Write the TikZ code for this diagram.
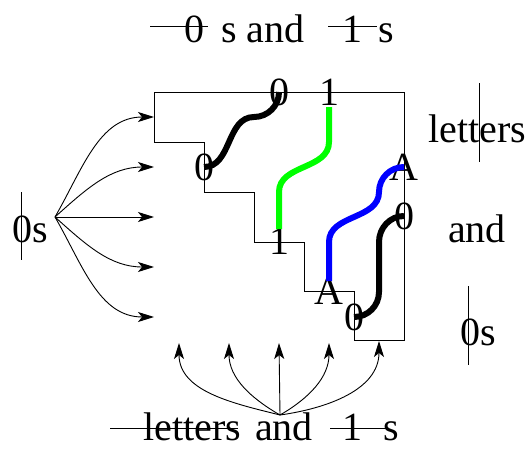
\documentclass[tikz,border=0pt]{standalone}
\usepackage{fontspec}
\setmainfont{Liberation Serif}
\usetikzlibrary{arrows.meta}
\begin{document}
\begin{tikzpicture}[x=1pt,y=-1pt,
  txt/.style={inner sep=0pt, font=\fontsize{40}{48}\selectfont},
  lbl/.style={txt, anchor=center},
  bw/.style={txt, anchor=base west},
  bc/.style={txt, anchor=base},
  hair/.style={line width=1pt},
  arr/.style={line width=0.9pt, -{Stealth[length=16pt,width=10pt,inset=4pt]}},
  pipe/.style={line width=6pt}]
\useasboundingbox (0,0) rectangle (530,452);

% staircase outline
\draw[hair] (154,92) -- (404,92) -- (404,340) -- (354,340) -- (354,291) -- (304,291)
  -- (304,242) -- (254,242) -- (254,192) -- (204,192) -- (204,142) -- (154,142) -- cycle;

% labels on the outline
\node[lbl] (t0) at (279,92) {0};
\node[lbl] (t1) at (329,92) {1};
\node[lbl] (l0) at (204,167) {0};
\node[lbl] (b1) at (279,241) {1};
\node[lbl] (rA) at (404,167) {A};
\node[lbl] (r0) at (404,216) {0};
\node[lbl] (bA) at (329,291) {A};
\node[lbl] (b0) at (354,317) {0};

% pipes
\draw[pipe] (l0.center) to[out=0,in=180] (254,117) to[out=0,in=-90] (t0.center);
\draw[pipe,green,shorten <=15pt,shorten >=12pt] (t1.center) -- (329,142)
  to[out=-90,in=90] (279,192) -- (b1.center);
\draw[pipe,blue,shorten >=10pt] (rA.center) to[out=180,in=90] (379,192)
  to[out=-90,in=90] (329,242) -- (bA.center);
\draw[pipe] (r0.center) to[out=180,in=90] (379,242) -- (379,292)
  to[out=-90,in=0] (b0.center);

% top text
\node[bc] (top0) at (194,43) {0};
\node[bw] (topsand) at (221,43) {s and};
\node[bc] (top1) at (352,43) {1};
\node[bw] (tops) at (378,43) {s};
\draw[hair] (150,27) -- (208,27);
\draw[hair] (328,27) -- (377,27);

% left text and arrows
\node[bw] (left0s) at (12,242) {0s};
\draw[hair] (21,192) -- (21,260);
\coordinate (L) at (55,217);
\coordinate (r1) at (154,117);
\coordinate (r2) at (154,167);
\coordinate (r3) at (154,217);
\coordinate (r4) at (154,267);
\coordinate (r5) at (154,317);
\draw[arr] (L) to[out=60,in=180] (r1);
\draw[arr] (L) to[out=42,in=180] (r2);
\draw[arr] (L) -- (r3);
\draw[arr] (L) to[out=-42,in=180] (r4);
\draw[arr] (L) to[out=-60,in=180] (r5);

% bottom text and arrows
\node[bw] (botletters) at (143,440) {letters};
\node[bw] (botand) at (255,440) {and};
\node[bc] (bot1) at (352,440) {1};
\node[bw] (bots) at (383,440) {s};
\draw[hair] (110,428) -- (238,428);
\draw[hair] (330,428) -- (387,428);
\coordinate (B) at (280,415);
\coordinate (c1) at (179,343);
\coordinate (c2) at (229,343);
\coordinate (c3) at (279,343);
\coordinate (c4) at (329,343);
\coordinate (c5) at (379,341);
\draw[arr] (B) to[out=166,in=-90] (c1);
\draw[arr] (B) to[out=150,in=-90] (c2);
\draw[arr] (B) -- (c3);
\draw[arr] (B) to[out=30,in=-90] (c4);
\draw[arr] (B) to[out=8,in=-90] (c5);

% right text
\node[bw] (rletters) at (428,142) {letters};
\draw[hair] (479,83) -- (479,162);
\node[bw] (rand) at (448,242) {and};
\node[bw] (r0s) at (460,345) {0s};
\draw[hair] (468,286) -- (468,365);
\end{tikzpicture}
\end{document}
